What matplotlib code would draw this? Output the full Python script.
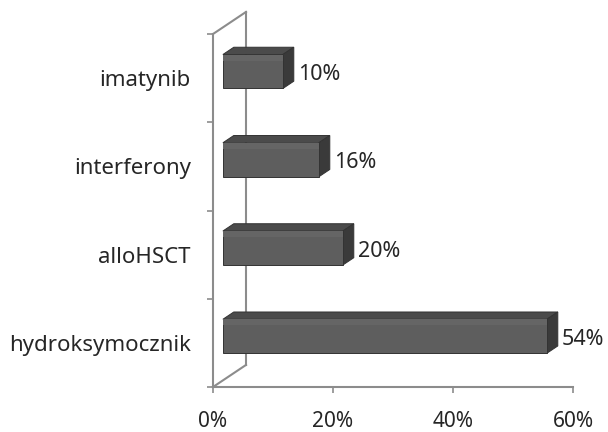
import matplotlib.pyplot as plt
from matplotlib.patches import Polygon
from matplotlib.ticker import FuncFormatter

plt.rcParams['font.family'] = ['Noto Sans', 'DejaVu Sans']

# Treatments, bottom to top
categories = ['hydroksymocznik', 'alloHSCT', 'interferony', 'imatynib']
values = [54, 20, 16, 10]
x_ticks = [0, 20, 40, 60]

# 3D projection: full depth of the box in data units (x in %, y in categories)
DEPTH_X = 5.5
DEPTH_Y = 0.25
BAR_FRONT = 0.30   # depth fraction of the bar's front face
BAR_BACK = 0.63    # depth fraction of the bar's back face
BAR_H = 0.385      # height of bar front face in category units

WALL = '#8c8c8c'
FRONT = '#5e5e5e'
TOP = '#4b4b4b'
SIDE = '#3a3a3a'
EDGE = '#333333'
TEXT = '#262626'

fig = plt.figure(figsize=(6.08, 4.32), dpi=100)
ax = fig.add_axes([213 / 608, 45 / 432, 360 / 608, 353 / 432])
ax.set_xlim(0, 60)
ax.set_ylim(-0.5, len(categories) - 0.5)

# Side wall and depth edges
y0, y1 = -0.5, len(categories) - 0.5
ax.plot([DEPTH_X, DEPTH_X], [y0 + DEPTH_Y, y1 + DEPTH_Y], color=WALL, lw=1.5, clip_on=False)
ax.plot([0, DEPTH_X], [y0, y0 + DEPTH_Y], color=WALL, lw=1.5, clip_on=False)
ax.plot([0, DEPTH_X], [y1, y1 + DEPTH_Y], color=WALL, lw=1.5, clip_on=False)


def box_bar(y, val):
    fx, fy = BAR_FRONT * DEPTH_X, BAR_FRONT * DEPTH_Y
    dx = (BAR_BACK - BAR_FRONT) * DEPTH_X
    dy = (BAR_BACK - BAR_FRONT) * DEPTH_Y
    bottom = y - BAR_H / 2 + fy
    top = y + BAR_H / 2 + fy
    left, right = fx, fx + val
    front = [(left, bottom), (right, bottom), (right, top), (left, top)]
    upper = [(left, top), (right, top), (right + dx, top + dy), (left + dx, top + dy)]
    side = [(right, bottom), (right + dx, bottom + dy), (right + dx, top + dy), (right, top)]
    ax.add_patch(Polygon(upper, closed=True, fc=TOP, ec=EDGE, lw=0.7, clip_on=False, zorder=3))
    ax.add_patch(Polygon(side, closed=True, fc=SIDE, ec=EDGE, lw=0.7, clip_on=False, zorder=3))
    ax.add_patch(Polygon(front, closed=True, fc=FRONT, ec=EDGE, lw=0.7, clip_on=False, zorder=4))
    # lighter band along the top of the front face
    band = [(left, top - BAR_H * 0.18), (right, top - BAR_H * 0.18), (right, top), (left, top)]
    ax.add_patch(Polygon(band, closed=True, fc='#656565', ec='none', clip_on=False, zorder=4))
    ax.text(val + BAR_BACK * DEPTH_X + 0.7, y + 0.04, f'{val}%', fontsize=15.5,
            color=TEXT, va='center', ha='left')


for i, v in enumerate(values):
    box_bar(i, v)

# Axes styling
for side_name in ['top', 'right']:
    ax.spines[side_name].set_visible(False)
for side_name in ['left', 'bottom']:
    ax.spines[side_name].set_color(WALL)
    ax.spines[side_name].set_linewidth(1.5)

ax.set_xticks(x_ticks)
ax.xaxis.set_major_formatter(FuncFormatter(lambda v, p: f'{v:.0f}%'))
ax.tick_params(axis='x', length=4, width=1.2, color=WALL, pad=13, labelsize=15,
               labelcolor=TEXT)

ax.set_yticks(range(len(categories)))
ax.set_yticklabels(categories)
ax.tick_params(axis='y', which='major', length=0, pad=16, labelsize=16, labelcolor=TEXT)
ax.set_yticks([k - 0.5 for k in range(len(categories) + 1)], minor=True)
ax.tick_params(axis='y', which='minor', length=4, width=1.2, color=WALL)

fig.savefig('out.png', dpi=100)
